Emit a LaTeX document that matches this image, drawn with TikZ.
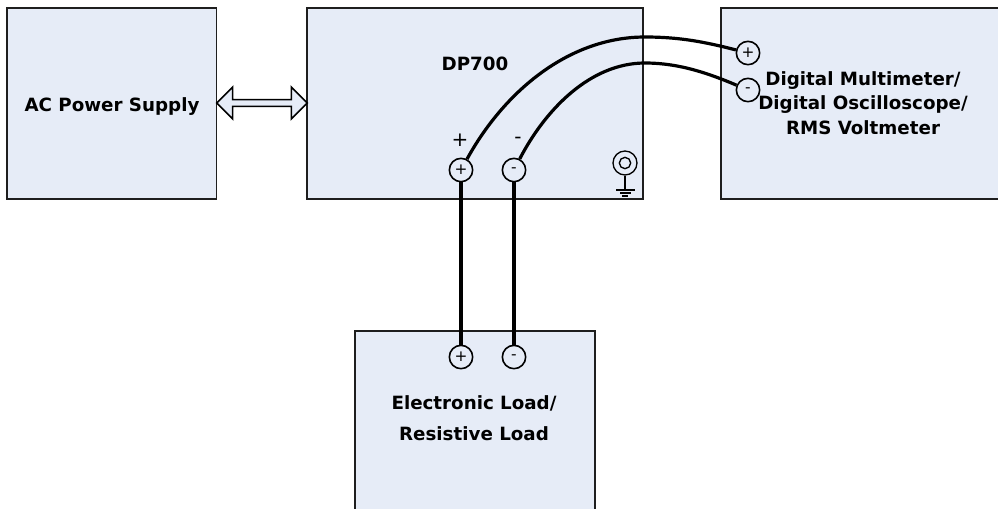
\documentclass[tikz,border=0pt]{standalone}
\usepackage{fontspec}
\setmainfont{DejaVu Sans}
\usetikzlibrary{shapes.arrows}
\definecolor{boxblue}{RGB}{230,236,247}
\definecolor{boxline}{RGB}{30,30,30}

\begin{document}
\begin{tikzpicture}[x=0.75pt, y=-0.75pt,
  unit/.style={draw=boxline, fill=boxblue, line width=1.2pt, inner sep=0pt, anchor=north west},
  unitlabel/.style={font=\bfseries\fontsize{13.7pt}{18.4pt}\selectfont, align=center, text=black},
  jack/.style={circle, draw=black, line width=1.2pt, minimum size=17.5pt, inner sep=0pt, font=\fontsize{11.5pt}{11.5pt}\selectfont},
  polarity/.style={font=\fontsize{15pt}{15pt}\selectfont},
  lead/.style={draw=black, line width=2.4pt},
  thinlead/.style={draw=black, line width=1pt}]

\useasboundingbox (0,0) rectangle (998,508);

%─────────────
% Boxes
%─────────────
\node[unit, minimum width=157pt, minimum height=143.25pt] (supply) at (6.3,7.3) {};
\node[unit, minimum width=252pt, minimum height=143.25pt] (source) at (306.3,7.3) {};
\node[unit, minimum width=212pt, minimum height=143.25pt] (meter) at (720.3,7.3) {};
\node[unit, minimum width=180pt, minimum height=140pt] (load) at (354.3,330.3) {};

%─────────────
% Labels
%─────────────
\node[unitlabel] (supplytext) at (112,107) {AC Power Supply};
\node[unitlabel] (sourcetext) at (475,64) {DP700};
\node[unitlabel] (metertext) at (863,103) {Digital Multimeter/\\Digital Oscilloscope/\\RMS Voltmeter};
\node[unitlabel, font=\bfseries\fontsize{13.7pt}{23pt}\selectfont] (loadtext) at (474,418) {Electronic Load/\\Resistive Load};

\node[polarity] (plustext) at (460,140) {+};
\node[polarity] (minustext) at (518,140) {-};

%─────────────
% Double arrow between supply and source
%─────────────
\node[double arrow, draw=black, fill=boxblue, line width=1.2pt, inner sep=0pt,
  minimum width=24pt, minimum height=68pt, double arrow head extend=2.2pt] (link) at (262,103) {};

%─────────────
% Jacks
%─────────────
\node[jack] (sourceplus) at (461,170) {+};
\node[jack] (sourceminus) at (514,170) {-};
\node[jack] (meterplus) at (748,53) {+};
\node[jack] (meterminus) at (748,90) {-};
\node[jack] (loadplus) at (461,357) {+};
\node[jack] (loadminus) at (514,357) {-};

%─────────────
% Leads
%─────────────
\draw[lead] (sourceplus) -- (loadplus);
\draw[lead] (sourceminus) -- (loadminus);
\draw[lead] (sourceplus) .. controls (505,90) and (570,37) .. (645,37)
  .. controls (680,37) and (705,42) .. (meterplus);
\draw[lead] (sourceminus) .. controls (545,110) and (590,63) .. (645,63)
  .. controls (680,63) and (710,74) .. (meterminus);

%─────────────
% Ground terminal
%─────────────
\node[circle, draw=black, line width=1pt, minimum size=18pt, inner sep=0pt] (earth) at (625,163) {};
\node[circle, draw=black, line width=1pt, minimum size=8.5pt, inner sep=0pt] (earthcore) at (625,163) {};
\coordinate (earthfoot) at (625,190);
\draw[thinlead] (earth) -- (earthfoot);
\draw[thinlead] (616,190) -- (635,190);
\draw[thinlead] (620,193) -- (631,193);
\draw[thinlead] (622,196) -- (628,196);

\end{tikzpicture}
\end{document}
